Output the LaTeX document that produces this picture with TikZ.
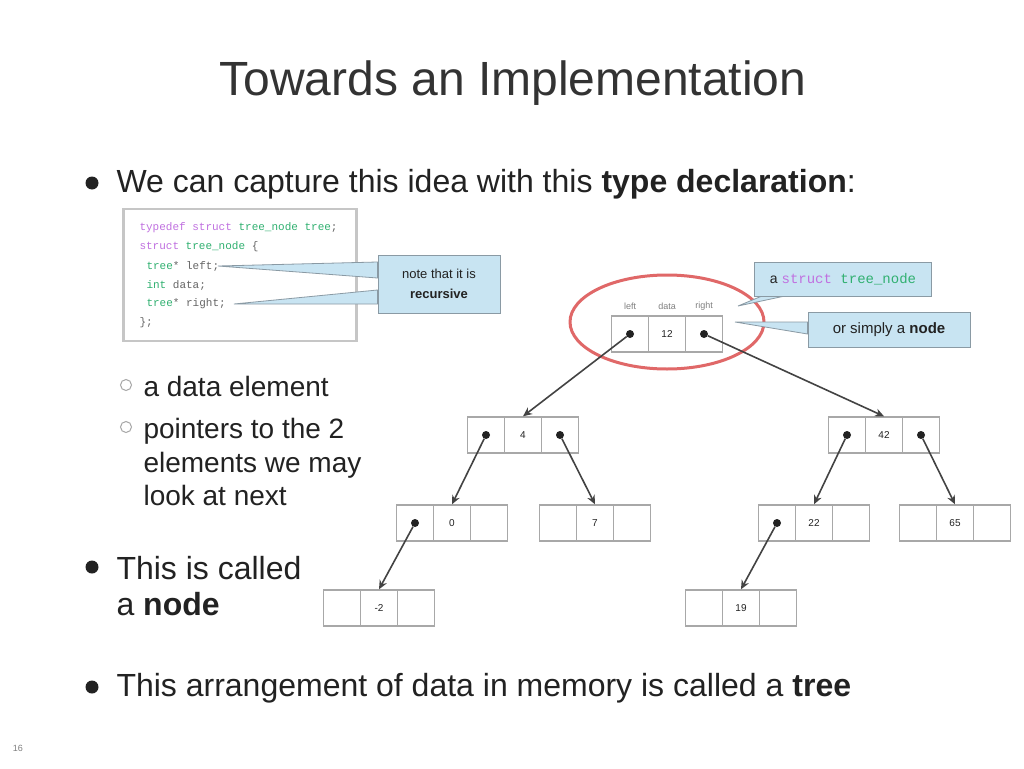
\documentclass[tikz,border=0pt]{standalone}
\usepackage{fontspec}
\setmainfont{Liberation Sans}
\setmonofont{Liberation Mono}
\usetikzlibrary{arrows.meta}
\definecolor{txt}{HTML}{222222}
\definecolor{ttl}{HTML}{333333}
\definecolor{kw}{HTML}{C070E0}
\definecolor{ty}{HTML}{30B070}
\definecolor{cfill}{HTML}{C8E4F2}
\definecolor{cline}{HTML}{8A9AA4}
\definecolor{cellc}{HTML}{A8A8A8}
\definecolor{ringc}{HTML}{E06868}
\tikzset{
  cell/.style={draw=cellc, line width=1.4pt, minimum width=37pt, minimum height=36pt, inner sep=0pt, font=\fontsize{10}{12}\selectfont, text=txt},
  dotc/.style={circle, fill=txt, inner sep=0pt, minimum size=8pt},
  link/.style={draw=txt!85, line width=1.6pt, -{Stealth[length=9pt,width=8pt]}},
  callbox/.style={draw=cline, fill=cfill, line width=1pt, align=center, text=txt, inner sep=4pt},
  wedge/.style={draw=cline, fill=cfill, line width=0.8pt},
  body/.style={font=\fontsize{32}{36}\selectfont, text=txt, anchor=west, align=left},
  sub/.style={font=\fontsize{28}{33.5}\selectfont, text=txt, anchor=west, align=left},
  bul/.style={circle, fill=txt, inner sep=0pt, minimum size=13pt},
  subbul/.style={circle, draw=gray!70, line width=1pt, inner sep=0pt, minimum size=11pt},
  code/.style={font=\ttfamily\fontsize{11}{19}\selectfont, text=gray!80!black, anchor=west},
  toplbl/.style={font=\fontsize{9}{10}\selectfont, text=gray},
}
\newcommand{\tnode}[5]{%
  \node[cell] (#1L) at (#2-37,#3) {};
  \node[cell] (#1M) at (#2,#3) {#4};
  \node[cell] (#1R) at (#2+37,#3) {};
}
\begin{document}
\begin{tikzpicture}[x=1pt,y=-1pt]
\useasboundingbox (0,0) rectangle (1024,768);
\fill[white] (0,0) rectangle (1024,768);
% title
\node[font=\fontsize{48}{56}\selectfont, text=ttl] (title) at (513,83) {Towards an Implementation};
% bullet 1
\node[bul] (b1) at (92,183) {};
\node[body] (t1) at (113,184) {We can capture this idea with this \textbf{type declaration}:};
% code box
\node[draw=gray!45, line width=2.5pt, minimum width=233pt, minimum height=132pt, inner sep=0pt] (codebox) at (240,275) {};
\node[code] (c1) at (136,228) {\textcolor{kw}{typedef struct} \textcolor{ty}{tree\_node tree};};
\node[code] (c2) at (136,247) {\textcolor{kw}{struct} \textcolor{ty}{tree\_node} \{};
\node[code] (c3) at (143,266) {\textcolor{ty}{tree}* left;};
\node[code] (c4) at (143,285) {\textcolor{ty}{int} data;};
\node[code] (c5) at (143,304) {\textcolor{ty}{tree}* right;};
\node[code] (c6) at (136,323) {\};};
% callout 1
\coordinate (w1a) at (218,266);
\coordinate (w1b) at (234,304);
\node[callbox, minimum width=122pt, minimum height=58pt, font=\fontsize{13}{20}\selectfont] (call1) at (439,284) {note that it is\\\textbf{recursive}};
\fill[wedge] (w1a) -- (call1.west |- 0,262) -- (call1.west |- 0,278) -- cycle;
\fill[wedge] (w1b) -- (call1.west |- 0,290) -- (call1.west |- 0,304) -- cycle;
\node[callbox, minimum width=122pt, minimum height=58pt, font=\fontsize{13}{20}\selectfont] at (439,284) {note that it is\\\textbf{recursive}};
% red ring
\draw[ringc, line width=3pt] (667,322) ellipse [x radius=97pt, y radius=47pt];
% root node
\tnode{r}{667}{334}{12}{}
\node[toplbl] (lblL) at (630,306) {left};
\node[toplbl] (lblM) at (667,306) {data};
\node[toplbl] (lblR) at (704,306) {right};
% level 2
\tnode{a}{523}{435}{4}{}
\tnode{b}{884}{435}{42}{}
% level 3
\tnode{c}{452}{523}{0}{}
\tnode{d}{595}{523}{7}{}
\tnode{e}{814}{523}{22}{}
\tnode{f}{955}{523}{65}{}
% level 4
\tnode{g}{379}{608}{-2}{}
\tnode{h}{741}{608}{19}{}
% dots
\foreach \n in {rL,rR,aL,aR,bL,bR,cL,eL}{\node[dotc] (\n d) at (\n) {};}
% links
\draw[link] (rLd) -- (aM.north);
\draw[link] (rRd) -- (bM.north);
\draw[link] (aLd) -- (cM.north);
\draw[link] (aRd) -- (dM.north);
\draw[link] (bLd) -- (eM.north);
\draw[link] (bRd) -- (fM.north);
\draw[link] (cLd) -- (gM.north);
\draw[link] (eLd) -- (hM.north);
% callout 2
\coordinate (w2) at (738,306);
\node[callbox, minimum width=177pt, minimum height=34pt, font=\fontsize{14}{16}\selectfont] (call2) at (843,279) {a \texttt{\textcolor{kw}{struct} \textcolor{ty}{tree\_node}}};
\fill[wedge] (w2) -- (762,296) -- (785,296) -- cycle;
\node[callbox, minimum width=177pt, minimum height=34pt, font=\fontsize{14}{16}\selectfont] at (843,279) {a \texttt{\textcolor{kw}{struct} \textcolor{ty}{tree\_node}}};
% callout 3
\coordinate (w3) at (735,322);
\node[callbox, minimum width=162pt, minimum height=35pt, font=\fontsize{15}{17}\selectfont] (call3) at (889,330) {or simply a \textbf{node}};
\fill[wedge] (w3) -- (call3.west |- 0,322) -- (call3.west |- 0,334) -- cycle;
\node[callbox, minimum width=162pt, minimum height=35pt, font=\fontsize{15}{17}\selectfont] at (889,330) {or simply a \textbf{node}};
% sub-bullets
\node[subbul] (s1) at (126,385) {};
\node[sub] (st1) at (140,386) {a data element};
\node[subbul] (s2) at (126,427) {};
\node[sub] (st2) at (140,462) {pointers to the 2\\elements we may\\look at next};
% bullet 2
\node[bul] (b2) at (92,567) {};
\node[body] (t2) at (113,586) {This is called\\a \textbf{node}};
% bullet 3
\node[bul] (b3) at (92,687) {};
\node[body] (t3) at (113,688) {This arrangement of data in memory is called a \textbf{tree}};
% slide number
\node[font=\fontsize{9}{10}\selectfont, text=gray] (num) at (18,748) {16};
\end{tikzpicture}
\end{document}
